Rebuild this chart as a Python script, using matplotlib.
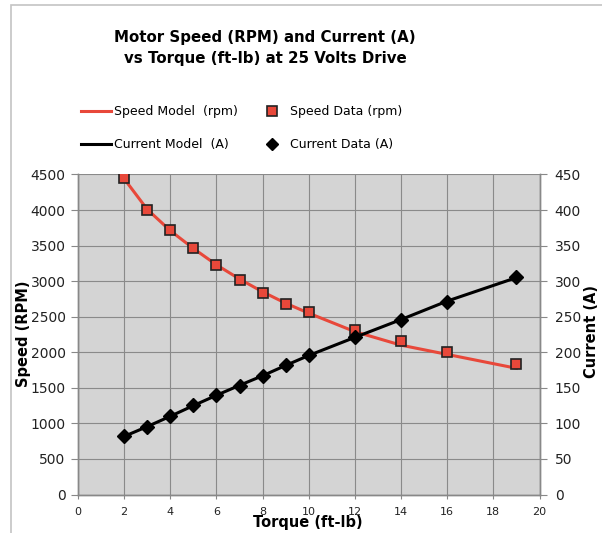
import matplotlib.pyplot as plt
import numpy as np
from matplotlib.lines import Line2D
from matplotlib.patches import Rectangle

# data
torque = [2, 3, 4, 5, 6, 7, 8, 9, 10, 12, 14, 16, 19]
speed_data = [4450, 4000, 3720, 3460, 3230, 3020, 2840, 2680, 2560, 2320, 2160, 2010, 1840]
current_data = [81.7, 95.4, 110.7, 125.4, 140, 153, 166, 182, 196, 222, 246, 271, 305.5]
speed_model = [4440, 4010, 3710, 3460, 3230, 3030, 2850, 2690, 2550, 2290, 2100, 1970, 1775]
current_model = [81.7, 95.5, 110, 125, 139.5, 153.5, 167, 181.5, 195.5, 221, 246, 272, 305]

x_ticks = list(range(0, 21, 2))
speed_ticks = list(range(0, 4501, 500))
current_ticks = list(range(0, 451, 50))

RED = '#e8483a'
BG = '#d4d4d4'
GRID = '#8a8a8a'

fig = plt.figure(figsize=(6.02, 5.33), dpi=100)
fig.patch.set_facecolor('white')

# light grey chart frame (cropped on the right and bottom)
fig.patches.append(Rectangle((11 / 602, -0.05), 1.2, 1 - 5 / 533 + 0.05,
                             transform=fig.transFigure, fill=False,
                             edgecolor='#c4c4c4', linewidth=1.2))

ax = fig.add_axes([78 / 602, 1 - 494.5 / 533, (539.5 - 78) / 602, (494.5 - 174.5) / 533])
ax.set_facecolor(BG)
ax2 = ax.twinx()

ax.plot(torque, speed_model, color=RED, linewidth=2.2, zorder=3)
ax.plot(torque, speed_data, linestyle='none', marker='s', markersize=7.2,
        markerfacecolor=RED, markeredgecolor='#222222', markeredgewidth=1.2, zorder=4)
ax2.plot(torque, current_model, color='black', linewidth=2.2, zorder=3)
ax2.plot(torque, current_data, linestyle='none', marker='D', markersize=7,
         color='black', zorder=4)

ax.set_xlim(0, 20)
ax.set_ylim(0, 4500)
ax2.set_ylim(0, 450)
ax.set_xticks(x_ticks)
ax.set_yticks(speed_ticks)
ax2.set_yticks(current_ticks)

ax.grid(True, color=GRID, linewidth=0.8)
ax.set_axisbelow(True)

for a in (ax, ax2):
    for s in a.spines.values():
        s.set_color('#888888')
        s.set_linewidth(1.0)
    a.spines['top'].set_visible(False)

ax.tick_params(axis='x', labelsize=8, length=3, color='#888888', pad=6, labelcolor='#222222')
ax.tick_params(axis='y', labelsize=10, length=5, color='#888888', pad=4, labelcolor='#222222')
ax2.tick_params(axis='y', labelsize=10, length=5, color='#888888', pad=6, labelcolor='#222222')

fig.text(24 / 602, 1 - 334 / 533, 'Speed (RPM)', rotation=90, ha='center', va='center',
         fontsize=10.5, fontweight='bold')
fig.text(592 / 602, 1 - 331 / 533, 'Current (A)', rotation=90, ha='center', va='center',
         fontsize=10.5, fontweight='bold')
fig.text(308 / 602, 1 - 523 / 533, 'Torque (ft-lb)', ha='center', va='center',
         fontsize=10.5, fontweight='bold')

fig.text(265 / 602, 1 - 48 / 533, 'Motor Speed (RPM) and Current (A)\nvs Torque (ft-lb) at 25 Volts Drive',
         ha='center', va='center', fontsize=10.8, fontweight='bold', linespacing=1.55)

handles = [
    Line2D([], [], color=RED, linewidth=2.2),
    Line2D([], [], color='black', linewidth=2.2),
    Line2D([], [], linestyle='none', marker='s', markersize=6.5,
           markerfacecolor=RED, markeredgecolor='#222222', markeredgewidth=1.2),
    Line2D([], [], linestyle='none', marker='D', markersize=6.5, color='black'),
]
labels = ['Speed Model  (rpm)', 'Current Model  (A)', 'Speed Data (rpm)', 'Current Data (A)']
fig.legend(handles, labels, ncol=2, loc='center left',
           bbox_to_anchor=(70 / 602, 1 - 128 / 533), frameon=False,
           fontsize=9, handlelength=2.4, handletextpad=0.25,
           columnspacing=1.5, labelspacing=1.6)

fig.savefig('out.png', dpi=100, facecolor='white')
